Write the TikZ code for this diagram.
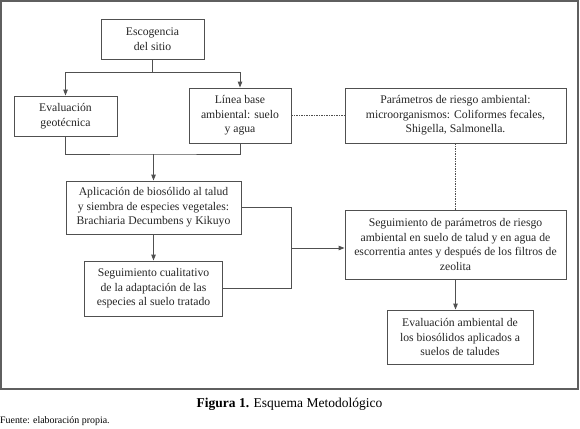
\documentclass[tikz,border=0pt]{standalone}
\usepackage{fontspec}
\setmainfont{Liberation Serif}
\usetikzlibrary{arrows.meta}
\definecolor{ln}{RGB}{80,80,80}
\definecolor{fr}{RGB}{95,95,95}
\begin{document}
\begin{tikzpicture}[x=1pt,y=-1pt,
  box/.style={draw=ln,line width=0.9pt,align=center,inner sep=0pt,font=\fontsize{11.7}{14.5}\selectfont,text=black!85},
  conn/.style={draw=ln,line width=0.9pt},
  arr/.style={conn,-{Triangle[length=6pt,width=4.5pt]}},
  dashline/.style={draw=ln,line width=0.7pt,dash pattern=on 1.5pt off 1pt}]
\useasboundingbox (0,0) rectangle (580,428);
\draw[fr,line width=1.4pt] (1,1) rectangle (578,389);
\node[box,minimum width=103pt,minimum height=40pt] (esc) at (152.5,39) {Escogencia\\del sitio};
\node[box,minimum width=103pt,minimum height=40pt] (evg) at (65.5,116) {Evaluación\\geotécnica};
\node[box,minimum width=102pt,minimum height=55pt] (lin) at (240,115.5) {Línea base\\ambiental: suelo\\y agua};
\node[box,minimum width=221pt,minimum height=55pt] (par) at (455.5,115.5) {Parámetros de riesgo ambiental:\\microorganismos: Coliformes fecales,\\Shigella, Salmonella.};
\node[box,minimum width=175pt,minimum height=53pt] (apl) at (153.5,207.5) {Aplicación de biosólido al talud\\y siembra de especies vegetales:\\Brachiaria Decumbens y Kikuyo};
\node[box,minimum width=138pt,minimum height=55pt] (seg) at (153.5,288.5) {Seguimiento cualitativo\\de la adaptación de las\\especies al suelo tratado};
\node[box,minimum width=221pt,minimum height=69pt] (spr) at (455.5,244.5) {Seguimiento de parámetros de riesgo\\ambiental en suelo de talud y en agua de\\escorrentia antes y después de los filtros de\\zeolita};
\node[box,minimum width=146pt,minimum height=54pt] (eva) at (460,337) {Evaluación ambiental de\\los biosólidos aplicados a\\suelos de taludes};
\coordinate (b1) at (152.5,72);
\coordinate (j1) at (153.5,154);
\coordinate (r1) at (291,248);
\coordinate (rt) at (291,207.5);
\draw[conn] (esc.south) -- (b1);
\draw[arr] (b1) -| (evg.north);
\draw[arr] (b1) -| (lin.north);
\draw[conn] (evg.south) |- (j1) -| (lin.south);
\draw[arr] (j1) -- (apl.north);
\draw[arr] (apl) -- (seg);
\draw[conn] (apl.east) -- (rt) |- (seg.east);
\draw[arr] (r1) -- (spr.west |- r1);
\draw[dashline] (lin.east) -- (par.west);
\draw[dashline] (par.south) -- (spr.north);
\draw[arr] (spr.south) -- (spr.south |- eva.north);
\node[font=\fontsize{13.5}{15}\selectfont,anchor=center] (cap) at (289.5,404) {\textbf{Figura 1.} Esquema Metodológico};
\node[font=\fontsize{9.9}{11}\selectfont,anchor=west,inner sep=0pt] (src) at (0,421) {Fuente: elaboración propia.};
\end{tikzpicture}
\end{document}
